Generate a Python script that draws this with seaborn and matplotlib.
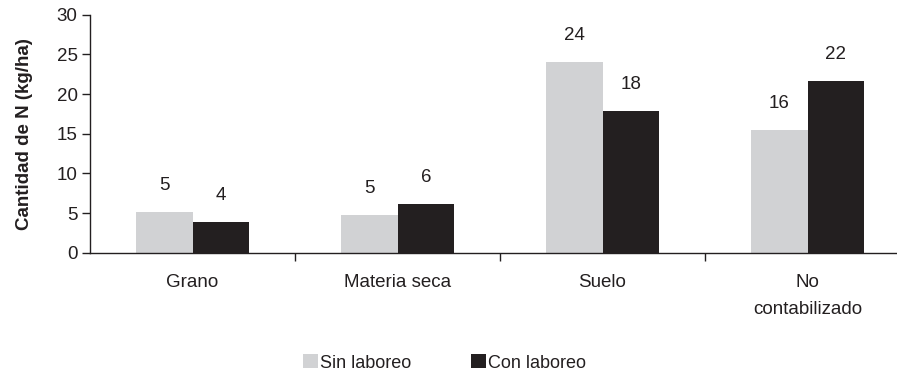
import matplotlib
matplotlib.use("Agg")
import matplotlib.pyplot as plt
import seaborn as sns
import pandas as pd
from matplotlib.patches import Patch

categories = ["Grano", "Materia seca", "Suelo", "No\ncontabilizado"]
series_names = ["Sin laboreo", "Con laboreo"]
sin_laboreo = [5.1, 4.75, 24.0, 15.5]
con_laboreo = [3.9, 6.15, 17.9, 21.65]
sin_labels = ["5", "5", "24", "16"]
con_labels = ["4", "6", "18", "22"]
colors = ["#d1d2d4", "#231f20"]

rows = []
for c, v in zip(categories, sin_laboreo):
    rows.append({"cat": c, "serie": series_names[0], "val": v})
for c, v in zip(categories, con_laboreo):
    rows.append({"cat": c, "serie": series_names[1], "val": v})
df = pd.DataFrame(rows)

sns.set_style("white")
plt.rcParams["font.family"] = ["Liberation Sans", "DejaVu Sans"]
txt = "#231f20"

fig = plt.figure(figsize=(8.97, 3.75), dpi=100)
ax = fig.add_axes([90/897, 1-252.7/375, 820/897, (252.7-14.7)/375])
sns.barplot(data=df, x="cat", y="val", hue="serie", order=categories,
            hue_order=series_names, palette=colors, width=0.556, gap=0,
            saturation=1, ax=ax, legend=False, linewidth=0)

ax.set_ylim(0, 30)
ax.set_xlim(-0.5, 3.5)
ax.set_yticks(range(0, 31, 5))
ax.tick_params(axis="y", direction="out", length=6, width=1, color=txt,
               labelsize=13.5, labelcolor=txt, pad=3, left=True)
ax.set_xticks(range(len(categories)))
ax.set_xticklabels(categories, fontsize=13.5, color=txt, linespacing=1.8)
ax.tick_params(axis="x", length=0, pad=15)
ax.set_xticks([0.5, 1.5, 2.5], minor=True)
ax.tick_params(axis="x", which="minor", direction="out", length=6, width=1,
               color=txt, bottom=True)
for s in ["top", "right"]:
    ax.spines[s].set_visible(False)
for s in ["left", "bottom"]:
    ax.spines[s].set_color(txt)
    ax.spines[s].set_linewidth(1)
ax.set_xlabel("")
ax.set_ylabel("Cantidad de N (kg/ha)", fontsize=13.5, fontweight="bold",
              color=txt, labelpad=17)

# value labels
bars = ax.patches
labels_all = sin_labels + con_labels
for p, lab in zip(bars[:8], labels_all):
    ax.annotate(lab, (p.get_x() + p.get_width()/2, p.get_height()),
                xytext=(0, 13), textcoords="offset points", ha="center",
                va="bottom", fontsize=13.5, color=txt)

handles = [Patch(facecolor=colors[0], edgecolor="none"),
           Patch(facecolor=colors[1], edgecolor="none")]
fig.legend(handles, series_names, loc="center", bbox_to_anchor=(0.496, 0.032),
           ncol=2, frameon=False, fontsize=13, handlelength=0.8,
           handleheight=0.8, handletextpad=0.15, columnspacing=3.3,
           labelcolor=txt)

fig.savefig("out.png", dpi=100)
